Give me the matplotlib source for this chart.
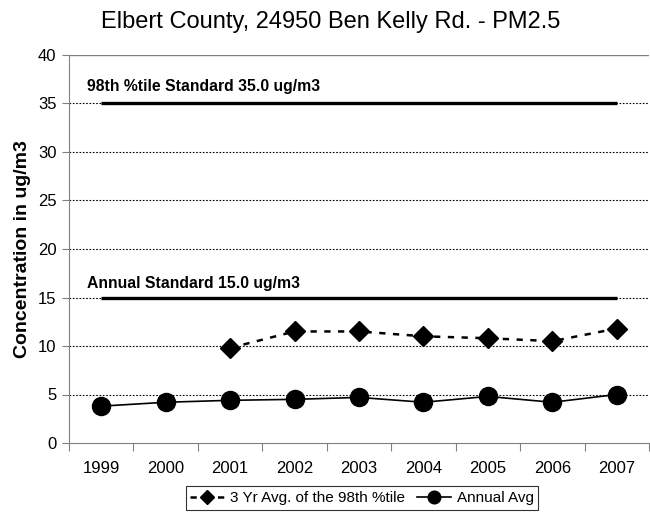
#!/usr/bin/env python3
# -*- coding: utf-8 -*-
"""PM2.5 trend chart for the Elbert County monitor (Ben Kelly Rd.)."""

import matplotlib

matplotlib.use("Agg")
import matplotlib.pyplot as plt
import numpy as np

plt.rcParams["font.family"] = ["Liberation Sans", "DejaVu Sans"]

years = ["1999", "2000", "2001", "2002", "2003", "2004", "2005", "2006", "2007"]
annual_avg = [3.8, 4.2, 4.4, 4.5, 4.7, 4.2, 4.8, 4.2, 5.0]
# 3-year average only starts in 2001
p98_avg = [np.nan, np.nan, 9.8, 11.5, 11.5, 11.0, 10.8, 10.5, 11.8]
std_98 = 35.0
std_annual = 15.0

fig = plt.figure(figsize=(6.5, 5.19), dpi=100)
ax = fig.add_axes([69 / 650, 76 / 519, 580 / 650, 388 / 519])

x = np.arange(len(years))

# standard lines
ax.plot(x, [std_98] * len(x), color="black", lw=2.4, solid_capstyle="butt", zorder=3)
ax.plot(x, [std_annual] * len(x), color="black", lw=2.4, solid_capstyle="butt", zorder=3)
ax.text(-0.22, std_98 + 1.8, "98th %tile Standard 35.0 ug/m3", fontsize=11.3,
        fontweight="bold", va="center", ha="left")
ax.text(-0.22, std_annual + 1.4, "Annual Standard 15.0 ug/m3", fontsize=11.3,
        fontweight="bold", va="center", ha="left")

ax.plot(x, p98_avg, color="black", lw=1.8, ls=(0, (2.5, 3)), marker="D",
        markersize=10, label="3 Yr Avg. of the 98th %tile", zorder=4)
ax.plot(x, annual_avg, color="black", lw=1.2, marker="o", markersize=13,
        label="Annual Avg", zorder=4)

ax.set_xlim(-0.5, len(years) - 0.5)
ax.set_ylim(0, 40)
ax.set_yticks(np.arange(0, 41, 5))
ax.tick_params(axis="y", labelsize=12, length=5, color="#808080", pad=4)

# category ticks between years, labels centered
ax.set_xticks(np.arange(-0.5, len(years), 1.0))
ax.set_xticklabels([])
ax.set_xticks(x, minor=True)
ax.set_xticklabels(years, minor=True, fontsize=12)
ax.tick_params(axis="x", which="major", length=6, color="#808080")
ax.tick_params(axis="x", which="minor", length=0, pad=13)

for yv in range(5, 40, 5):
    ax.axhline(yv, color="black", lw=0.8, ls=(0, (1.5, 1.5)), zorder=1)
ax.axhline(40, color="#808080", lw=1.0, zorder=1)

for side in ["left", "bottom"]:
    ax.spines[side].set_color("#808080")
for side in ["top", "right"]:
    ax.spines[side].set_visible(False)

ax.set_ylabel("Concentration in ug/m3", fontsize=14, fontweight="bold", labelpad=5)

fig.text(0.508, 0.957, "Elbert County, 24950 Ben Kelly Rd. - PM2.5", fontsize=17,
         ha="center", va="center", family=["Liberation Sans Narrow", "Liberation Sans"])

leg = fig.legend(loc="center", bbox_to_anchor=(362 / 650, 1 - 498 / 519), ncol=2,
                 fontsize=11, frameon=True, fancybox=False, handlelength=2.2,
                 handletextpad=0.4, columnspacing=0.8, borderpad=0.3,
                 markerscale=0.7)
leg.get_frame().set_edgecolor("black")
leg.get_frame().set_linewidth(0.8)

fig.savefig("out.png", dpi=100)
